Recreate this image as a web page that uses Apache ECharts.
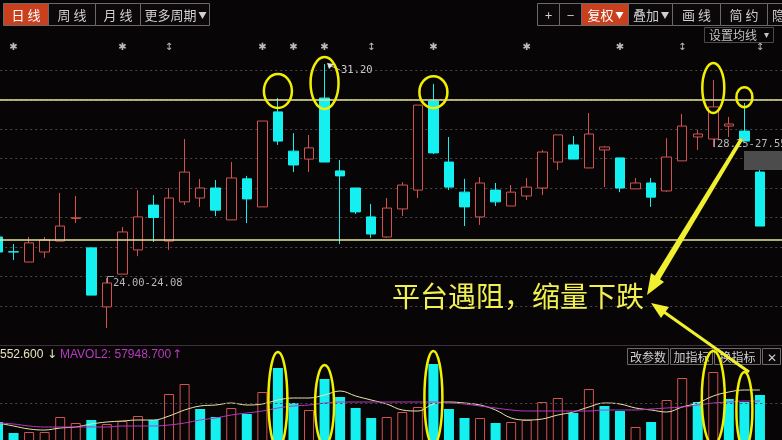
<!DOCTYPE html>
<html>
<head>
<meta charset="utf-8">
<script src="https://cdn.jsdelivr.net/npm/echarts@6/dist/echarts.min.js"></script>
<style>
html,body{margin:0;padding:0;background:#080506;}
#c{width:782px;height:440px;}
</style>
</head>
<body>
<div id="c"></div>
<script>
// ---------------- DATA ----------------
const categories = Array.from({length: 51}, (_, i) => 'K' + (i + 1)); // last slot is empty
// [open, close, low, high]
const ohlc = [
  [25.34, 24.83, 24.80, 25.37],
  [24.84, 24.83, 24.56, 25.10],
  [24.49, 25.14, 24.49, 25.34],
  [24.83, 25.24, 24.63, 25.34],
  [25.20, 25.71, 25.20, 26.83],
  [25.97, 25.99, 25.81, 26.73],
  [24.97, 23.37, 23.37, 24.97],
  [22.97, 23.78, 22.25, 23.95],
  [24.08, 25.51, 24.08, 25.68],
  [24.90, 26.02, 24.69, 26.93],
  [26.42, 26.00, 25.17, 26.76],
  [25.20, 26.66, 24.90, 27.00],
  [26.53, 27.54, 26.42, 28.66],
  [26.66, 27.00, 26.36, 27.31],
  [27.00, 26.25, 26.05, 27.27],
  [25.92, 27.34, 25.92, 27.88],
  [27.31, 26.63, 25.81, 27.41],
  [26.36, 29.27, 26.36, 29.27],
  [29.58, 28.59, 28.46, 30.05],
  [28.25, 27.78, 27.54, 28.86],
  [27.98, 28.36, 27.54, 28.80],
  [30.05, 27.88, 27.88, 31.20],
  [27.58, 27.41, 25.10, 27.95],
  [27.00, 26.19, 26.12, 27.00],
  [26.02, 25.44, 25.31, 26.46],
  [25.34, 26.32, 25.31, 26.66],
  [26.29, 27.10, 26.05, 27.20],
  [26.93, 29.81, 26.66, 29.81],
  [29.95, 28.19, 28.15, 30.53],
  [27.88, 27.03, 26.93, 28.73],
  [26.86, 26.36, 25.71, 27.31],
  [26.02, 27.17, 25.75, 27.37],
  [26.93, 26.53, 26.39, 27.17],
  [26.39, 26.86, 26.39, 27.10],
  [26.73, 27.03, 26.59, 27.34],
  [27.00, 28.22, 26.76, 28.29],
  [27.88, 28.80, 27.61, 28.80],
  [28.46, 27.98, 27.98, 28.76],
  [27.68, 28.83, 27.68, 29.54],
  [28.29, 28.39, 27.03, 28.42],
  [28.02, 27.00, 26.86, 28.02],
  [26.97, 27.17, 26.97, 27.34],
  [27.17, 26.69, 26.36, 27.34],
  [26.90, 28.05, 26.86, 28.69],
  [27.92, 29.10, 27.92, 29.51],
  [28.73, 28.83, 28.29, 28.97],
  [28.66, 29.75, 28.39, 30.66],
  [29.10, 29.17, 28.73, 29.41],
  [28.93, 28.59, 28.59, 29.88],
  [27.54, 25.71, 25.71, 27.61]
];
const volume = [
  33600, 20400, 21600, 21600, 39600, 32400, 36000, 31200, 34800, 40800,
  36000, 67200, 79200, 49200, 39600, 50400, 43200, 69600, 98400, 56400,
  48000, 85200, 63600, 50400, 38400, 39600, 45600, 51600, 103200, 49200,
  38400, 38400, 32400, 33600, 36000, 57600, 62400, 44400, 73200, 52800,
  46800, 27600, 33600, 60000, 86400, 57600, 93600, 61200, 57600, 66000
];
const mavol1 = [
  32400, 28800, 25200, 24000, 26400, 27600, 31200, 33600, 34800, 36000,
  36000, 40800, 48000, 52800, 54000, 56400, 54000, 55200, 60000, 62400,
  62400, 66000, 70800, 64800, 60000, 55200, 48000, 46800, 55200, 57600,
  56400, 54000, 48000, 38400, 36000, 37200, 42000, 45600, 51600, 56400,
  55200, 50400, 48000, 45600, 51600, 56400, 64800, 69600, 72000, 72000
];
const mavol2 = [
  32400, 31200, 28800, 27600, 27600, 27600, 27600, 27600, 28800, 28800,
  28800, 30000, 32400, 36000, 38400, 42000, 44400, 46800, 50400, 52800,
  54000, 56400, 57600, 57600, 57600, 57600, 57600, 57600, 57600, 56400,
  55200, 52800, 50400, 48000, 46800, 46800, 46800, 46800, 46800, 48000,
  48000, 48000, 49200, 50400, 51600, 54000, 56400, 57600, 58800, 58800
];
const levelLines = [30.00, 25.24];          // yellow platform lines
const volumeRef = 56400;                    // dotted reference in volume panel
const markerIdx = [1, 8, 11, 17, 19, 21, 24, 28, 34, 40, 44, 49];
const markerGlyph = ['✱','✱','↕','✱','✱','✱','↕','✱','✱','✱','↕','↕'];
const markerPrice = 31.76;
const priceRings = [ // [index, price centre, rx, ry]
  [18, 30.29, 14, 17], [21, 30.56, 14, 26], [28, 30.25, 14, 16], [46, 30.39, 11, 25], [48, 30.08, 8, 10]
];
const volRings = [
  [18, 60000, 9.5, 48], [21, 54000, 9.5, 40], [28, 62400, 9, 47], [46, 62400, 11.5, 47], [48, 48000, 8, 38]
];

// ---------------- STYLE ----------------
const BG = '#080506';
const RED = '#d25252';
const CYAN = '#14f0f0';

const volData = volume.map((v, i) => {
  const up = i > 0 && ohlc[i][1] > ohlc[i - 1][1];
  return {
    value: v,
    itemStyle: up ? {color: BG, borderColor: RED, borderWidth: 1} : {color: CYAN, borderColor: CYAN, borderWidth: 0}
  };
});

const chart = echarts.init(document.getElementById('c'), null, {renderer: 'canvas'});

const axisOff = {axisLine: {show: false}, axisTick: {show: false}, axisLabel: {show: false}};

chart.setOption({
  backgroundColor: BG,
  animation: false,
  grid: [
    {left: -9.775, width: 793.05, top: 40.5, height: 295, outerBoundsMode: 'none', containLabel: false},
    {left: -9.775, width: 793.05, top: 346, height: 104, outerBoundsMode: 'none', containLabel: false}
  ],
  xAxis: [
    Object.assign({type: 'category', gridIndex: 0, data: categories, boundaryGap: true, splitLine: {show: false}}, axisOff),
    Object.assign({type: 'category', gridIndex: 1, data: categories, boundaryGap: true, splitLine: {show: false}}, axisOff)
  ],
  yAxis: [
    Object.assign({type: 'value', gridIndex: 0, min: 22, max: 32, interval: 1,
      splitLine: {show: true, showMaxLine: false, showMinLine: false, lineStyle: {color: '#4a4a4a', type: [2, 3], width: 1}}}, axisOff),
    Object.assign({type: 'value', gridIndex: 1, min: 0, max: 124800, splitLine: {show: false}}, axisOff)
  ],
  series: [
    {
      type: 'candlestick', xAxisIndex: 0, yAxisIndex: 0, data: ohlc, barWidth: 10,
      itemStyle: {color: BG, color0: CYAN, borderColor: RED, borderColor0: CYAN, borderWidth: 1},
      markLine: {
        silent: true, symbol: ['none', 'none'], label: {show: false},
        lineStyle: {color: '#e6e69a', type: 'solid', width: 1.6},
        data: levelLines.map(v => ({yAxis: v}))
      }
    },
    {
      type: 'scatter', xAxisIndex: 0, yAxisIndex: 0, symbolSize: 0, silent: true,
      data: markerIdx.map((k, j) => ({value: [k, markerPrice], name: markerGlyph[j]})),
      label: {show: true, position: 'inside', formatter: p => p.name, color: '#e8e8e8', fontSize: 10, fontFamily: 'DejaVu Sans'}
    },
    {
      type: 'bar', xAxisIndex: 1, yAxisIndex: 1, data: volData, barWidth: 10,
      markLine: {
        silent: true, symbol: ['none', 'none'], label: {show: false},
        lineStyle: {color: '#4a4a4a', type: [2, 3], width: 1},
        data: [{yAxis: volumeRef}]
      }
    },
    {
      type: 'line', xAxisIndex: 1, yAxisIndex: 1, data: mavol1, smooth: 0.4, symbol: 'none',
      lineStyle: {color: '#e8e4a8', width: 1}
    },
    {
      type: 'line', xAxisIndex: 1, yAxisIndex: 1, data: mavol2, smooth: 0.4, symbol: 'none',
      lineStyle: {color: '#b838c0', width: 1}
    }
  ]
});

// ---------------- ANNOTATIONS / UI ----------------
const G = [];
const CJK = '"Noto Sans CJK SC", sans-serif';
function btn(x, w, text, active, y, h, fs, tri) {
  y = y === undefined ? 3 : y; h = h === undefined ? 22 : h; fs = fs || 13;
  G.push({type: 'rect', shape: {x: x + 0.5, y: y + 0.5, width: w, height: h},
    style: {fill: active ? '#c8401e' : '#0c0809', stroke: '#6a6a6a', lineWidth: 1}, z: 100});
  const col = active ? '#ffffff' : '#cfcfcf';
  const cx = tri ? x + w / 2 - 4 : x + w / 2 + 0.5;
  G.push({type: 'text', x: cx, y: y + h / 2 + 1, z: 101,
    style: {text: text, fill: col, font: fs + 'px ' + CJK, textAlign: 'center', textVerticalAlign: 'middle'}});
  if (tri) {
    const tx = cx + text.length * fs / 2 + 2, ty = y + h / 2 - 2;
    G.push({type: 'polygon', shape: {points: [[tx, ty], [tx + 8, ty], [tx + 4, ty + 7]]}, style: {fill: col}, z: 101});
  }
}
btn(3, 45, '日 线', true);
btn(48, 47, '周 线', false);
btn(95, 45, '月 线', false);
btn(140, 69, '更多周期', false, 3, 22, 13, true);
btn(537, 22, '+', false);
btn(559, 22, '−', false);
btn(581, 47, '复权', true, 3, 22, 13, true);
btn(628, 44, '叠加', false, 3, 22, 13, true);
btn(672, 48, '画 线', false);
btn(720, 47, '简 约', false);
btn(767, 22, '隐', false);

// 设置均线
G.push({type: 'rect', shape: {x: 704.5, y: 27.5, width: 69, height: 15}, style: {fill: 'none', stroke: '#4a4a4a', lineWidth: 1}, z: 100});
G.push({type: 'text', x: 709, y: 35.5, z: 101, style: {text: '设置均线', fill: '#c4c4c4', font: '12px ' + CJK, textVerticalAlign: 'middle'}});
G.push({type: 'text', x: 764, y: 35.5, z: 101, style: {text: '▾', fill: '#c4c4c4', font: '10px "DejaVu Sans"', textVerticalAlign: 'middle'}});

// value labels
const MONO = '10.5px "DejaVu Sans Mono", monospace';
G.push({type: 'polygon', shape: {points: [[327, 63], [334, 64], [329, 69]]}, style: {fill: '#e0e0e0'}, z: 101});
G.push({type: 'line', shape: {x1: 331, y1: 66, x2: 340, y2: 70}, style: {stroke: '#bbbbbb', lineWidth: 1}, z: 101});
G.push({type: 'text', x: 341, y: 70, z: 101, style: {text: '31.20', fill: '#c8c8c8', font: MONO, textVerticalAlign: 'middle'}});
G.push({type: 'polyline', shape: {points: [[107.5, 283], [107.5, 276.5], [114, 276.5]]}, style: {stroke: '#9a9a9a', lineWidth: 1, fill: 'none'}, z: 101});
G.push({type: 'text', x: 113, y: 283, z: 101, style: {text: '24.00-24.08', fill: '#b8b8b8', font: MONO, textVerticalAlign: 'middle'}});
G.push({type: 'line', shape: {x1: 714.5, y1: 139, x2: 714.5, y2: 147}, style: {stroke: '#9a9a9a', lineWidth: 1}, z: 101});
G.push({type: 'text', x: 717, y: 144, z: 101, style: {text: '28.25-27.55', fill: '#b8b8b8', font: MONO, textVerticalAlign: 'middle'}});
G.push({type: 'rect', shape: {x: 744, y: 151, width: 40, height: 19}, style: {fill: '#4c4c4c'}, z: 99});

// volume panel header
G.push({type: 'line', shape: {x1: 0, y1: 345.5, x2: 782, y2: 345.5}, style: {stroke: '#3e2e3e', lineWidth: 1}, z: 100});
const SANS = '12px "Liberation Sans", Arial, sans-serif';
G.push({type: 'text', x: 0, y: 355, z: 101, style: {text: '552.600', fill: '#e6e4c0', font: SANS, textVerticalAlign: 'middle'}});
G.push({type: 'text', x: 47, y: 355, z: 101, style: {text: '↓', fill: '#e6e4c0', font: '12px "DejaVu Sans"', textVerticalAlign: 'middle'}});
G.push({type: 'text', x: 60, y: 355, z: 101, style: {text: 'MAVOL2: 57948.700', fill: '#b83cc0', font: SANS, textVerticalAlign: 'middle'}});
G.push({type: 'text', x: 172, y: 355, z: 101, style: {text: '↑', fill: '#b83cc0', font: '12px "DejaVu Sans"', textVerticalAlign: 'middle'}});
btn(627, 41, '改参数', false, 348, 16, 12);
btn(670, 42, '加指标', false, 348, 16, 12);
btn(714, 46, '换指标', false, 348, 16, 12);
btn(762, 18, '✕', false, 348, 16, 12);

// headline text
G.push({type: 'text', x: 392, y: 296, z: 102, style: {text: '平台遇阻，缩量下跌', fill: '#f0f050', font: '28px ' + CJK, textVerticalAlign: 'middle'}});

// arrows
const AY = '#f0f030';
G.push({type: 'polygon', shape: {points: [[740, 138], [743, 140], [659, 281], [654, 277]]}, style: {fill: AY}, z: 102});
G.push({type: 'polygon', shape: {points: [[647, 295], [664, 282], [651, 273]]}, style: {fill: AY}, z: 102});
G.push({type: 'line', shape: {x1: 749, y1: 372, x2: 664, y2: 312}, style: {stroke: AY, lineWidth: 3}, z: 102});
G.push({type: 'polygon', shape: {points: [[651, 303], [669, 307], [661, 318]]}, style: {fill: AY}, z: 102});

// rings anchored to data positions
priceRings.forEach(r => {
  const p = chart.convertToPixel({gridIndex: 0}, [r[0], r[1]]);
  G.push({type: 'ellipse', shape: {cx: p[0], cy: p[1], rx: r[2], ry: r[3]}, style: {fill: 'none', stroke: '#f0f000', lineWidth: 2.5}, z: 103});
});
volRings.forEach(r => {
  const p = chart.convertToPixel({gridIndex: 1}, [r[0], r[1]]);
  G.push({type: 'ellipse', shape: {cx: p[0], cy: p[1], rx: r[2], ry: r[3]}, style: {fill: 'none', stroke: '#f0f000', lineWidth: 2.5}, z: 103});
});

chart.setOption({graphic: G});
</script>
</body>
</html>
